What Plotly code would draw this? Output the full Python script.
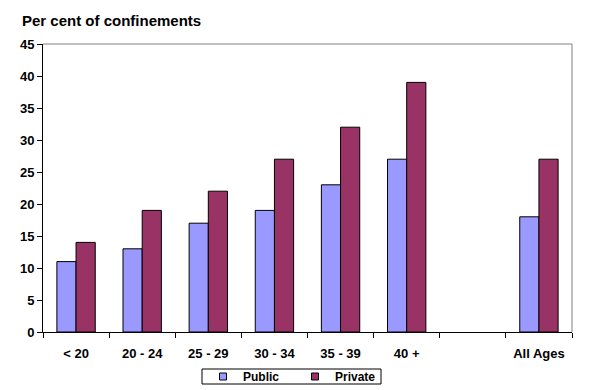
import plotly.graph_objects as go

categories = ["< 20", "20 - 24", "25 - 29", "30 - 34", "35 - 39", "40 +", " ", "All Ages"]
public = [11, 13, 17, 19, 23, 27, None, 18]
private = [14, 19, 22, 27, 32, 39, None, 27]
y_ticks = [0, 5, 10, 15, 20, 25, 30, 35, 40, 45]
series_names = ["Public", "Private"]
series_colors = ["#9999FF", "#993366"]

L, R, T, B = 43, 42, 44, 58
PW, PH = 614 - L - R, 390 - T - B

def px_x(p):
    return (p - L) / PW

def px_y(p):
    return (332 - p) / PH

fig = go.Figure()
for name, vals, col in zip(series_names, [public, private], series_colors):
    fig.add_trace(go.Bar(x=categories, y=vals, name=name, showlegend=False,
                         marker=dict(color=col, line=dict(color="black", width=1))))
# legend keys (small squares like the original)
for name, col in zip(series_names, series_colors):
    fig.add_trace(go.Scatter(x=[None], y=[None], mode="markers", name=name,
                             marker=dict(symbol="square", size=7, color=col,
                                         line=dict(color="black", width=1))))

fig.update_layout(
    width=614, height=390,
    margin=dict(l=L, r=R, t=T, b=B, autoexpand=False),
    paper_bgcolor="white", plot_bgcolor="white",
    barmode="group", bargap=0.42, bargroupgap=0,
    font=dict(family="Liberation Sans, Arial", size=13, color="black"),
    showlegend=True,
    legend=dict(orientation="h", x=px_x(203), xanchor="left",
                y=px_y(376.5), yanchor="middle",
                borderwidth=0, bgcolor="rgba(0,0,0,0)",
                font=dict(size=12, family="Liberation Sans, Arial", weight="bold"),
                entrywidth=47, itemwidth=30, tracegroupgap=0),
)
fig.add_annotation(text="<b>Per cent of confinements</b>", xref="paper", yref="paper",
                   x=px_x(20), y=px_y(20), xanchor="left", yanchor="middle",
                   showarrow=False, font=dict(size=15))

# legend box
fig.add_shape(type="rect", xref="paper", yref="paper",
              x0=px_x(202), x1=px_x(381), y0=px_y(384), y1=px_y(369),
              line=dict(color="black", width=1), layer="below")

fig.update_xaxes(categoryorder="array", categoryarray=categories,
                 showline=True, linecolor="black", linewidth=1, mirror=False,
                 ticks="outside", ticklen=5, tickcolor="black", tickson="boundaries",
                 tickfont=dict(size=13, weight="bold"), ticklabelstandoff=9, showgrid=False)
fig.update_yaxes(range=[0, 45], tickvals=y_ticks, showline=True, linecolor="black", linewidth=1,
                 ticks="outside", ticklen=5, tickcolor="black", showgrid=False, zeroline=False,
                 tickfont=dict(size=13, weight="bold"))

# gray plot-area border on top and right
fig.add_shape(type="line", xref="paper", yref="paper", x0=0, x1=1, y0=1, y1=1,
              line=dict(color="#808080", width=1))
fig.add_shape(type="line", xref="paper", yref="paper", x0=1, x1=1, y0=0, y1=1,
              line=dict(color="#808080", width=1))

fig.write_html("out.html", config={"displayModeBar": False},
               post_script="document.body.style.margin='0';")
